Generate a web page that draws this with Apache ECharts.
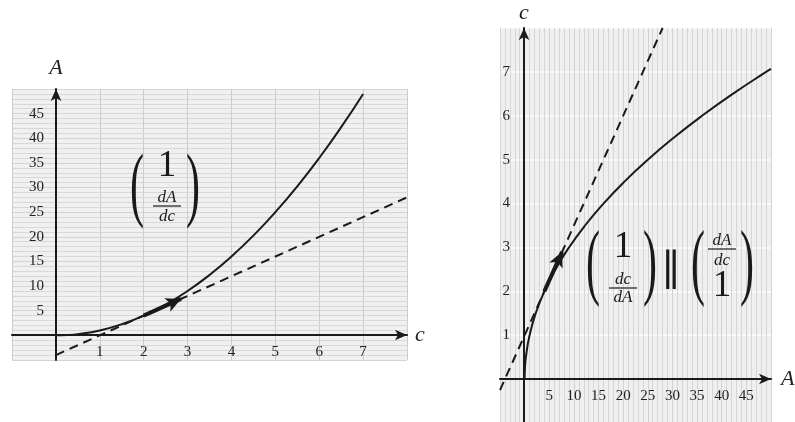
<!DOCTYPE html>
<html>
<head>
<meta charset="utf-8">
<script src="https://cdn.jsdelivr.net/npm/echarts@6/dist/echarts.min.js"></script>
<style>html,body{margin:0;padding:0;background:#fff}#chart{width:795px;height:422px}</style>
</head>
<body>
<div id="chart"></div>
<script>
// Left panel: A versus c
const leftC = [0, 0.25, 0.5, 1, 1.5, 2, 2.5, 3, 3.5, 4, 4.5, 5, 5.5, 6, 6.5, 7];
const leftA = [0, 0.06, 0.25, 1, 2.25, 4, 6.25, 9, 12.25, 16, 20.25, 25, 30.25, 36, 42.25, 49];
const leftTangentC = [0, 8];
const leftTangentA = [-4, 28];
const leftArrowC = [2, 2.85];
const leftArrowA = [4, 7.4];
const leftXTicks = [1, 2, 3, 4, 5, 6, 7];
const leftYTicks = [5, 10, 15, 20, 25, 30, 35, 40, 45];

// Right panel: c versus A
const rightA = [0, 0.06, 0.25, 1, 2.25, 4, 6.25, 9, 12.25, 16, 20.25, 25, 30.25, 36, 42.25, 49, 50];
const rightC = [0, 0.25, 0.5, 1, 1.5, 2, 2.5, 3, 3.5, 4, 4.5, 5, 5.5, 6, 6.5, 7, 7.07];
const rightTangentA = [-5, 28];
const rightTangentC = [-0.25, 8];
const rightArrowA = [4, 7.6];
const rightArrowC = [2, 2.9];
const rightXTicks = [5, 10, 15, 20, 25, 30, 35, 40, 45];
const rightYTicks = [1, 2, 3, 4, 5, 6, 7];

const zip = (a, b) => a.map((v, i) => [v, b[i]]);
const serif = 'Liberation Serif';
const ink = '#1a1a1a';
const labelStyle = {fontFamily: serif, fontSize: 15, color: '#222'};
const nameStyle = {fontFamily: serif, fontStyle: 'italic', fontSize: 22, color: '#222'};
const axisLineStyle = {show: true, onZero: false, symbol: ['none', 'arrow'], symbolSize: [8, 12], lineStyle: {color: ink, width: 2}};

// grid geometry (pixels) — positions only
const G0 = {left: 12, top: 89, width: 395, height: 271};
const G1 = {left: 500, top: 28, width: 271, height: 395};

const chart = echarts.init(document.getElementById('chart'));

function txt(x, y, text, font, extra) {
  return Object.assign({type: 'text', x: x, y: y, z: 10,
    style: {text: text, font: font, fill: ink, align: 'center', verticalAlign: 'middle'}}, extra || {});
}
function bar(x1, x2, y) {
  return {type: 'line', z: 10, shape: {x1: x1, y1: y, x2: x2, y2: y}, style: {stroke: ink, lineWidth: 1.2}};
}
const parenFont = '42px "Liberation Serif"';
const bigFont = '37px "Liberation Serif"';
const fracFont = 'italic 17px "Liberation Serif"';

const option = {
  animation: false,
  backgroundColor: '#ffffff',
  grid: [
    Object.assign({show: true, backgroundColor: '#f0f0f0', borderWidth: 0, outerBoundsMode: 'none', containLabel: false}, G0),
    Object.assign({show: true, backgroundColor: '#efefef', borderWidth: 0, outerBoundsMode: 'none', containLabel: false}, G1)
  ],
  xAxis: [
    {
      gridIndex: 0, type: 'value', min: -1, max: 8, interval: 1, position: 'bottom', offset: -25,
      name: 'c', nameLocation: 'end', nameGap: 8, nameTextStyle: nameStyle,
      axisLine: axisLineStyle, axisTick: {show: false},
      axisLabel: Object.assign({margin: 10, formatter: v => leftXTicks.includes(v) ? String(v) : ''}, labelStyle),
      splitLine: {show: true, lineStyle: {color: '#cdcdcd', width: 1}}
    },
    {
      gridIndex: 1, type: 'value', min: -5, max: 50, interval: 5, position: 'bottom', offset: -44,
      name: 'A', nameLocation: 'end', nameGap: 10, nameTextStyle: nameStyle,
      axisLine: axisLineStyle, axisTick: {show: false},
      axisLabel: Object.assign({margin: 10, formatter: v => rightXTicks.includes(v) ? String(v) : ''}, labelStyle),
      splitLine: {show: true, lineStyle: {color: '#d2d2d2', width: 1}},
      minorTick: {show: false, splitNumber: 5},
      minorSplitLine: {show: true, lineStyle: {color: '#d6d6d6', width: 1}}
    }
  ],
  yAxis: [
    {
      gridIndex: 0, type: 'value', min: -5, max: 50, interval: 5, position: 'left', offset: -44,
      name: 'A', nameLocation: 'end', nameGap: 10, nameTextStyle: nameStyle,
      axisLine: axisLineStyle, axisTick: {show: false},
      axisLabel: Object.assign({margin: 12, formatter: v => leftYTicks.includes(v) ? String(v) : ''}, labelStyle),
      splitLine: {show: true, lineStyle: {color: '#d4d4d4', width: 1}},
      minorTick: {show: false, splitNumber: 5},
      minorSplitLine: {show: true, lineStyle: {color: '#d8d8d8', width: 1}}
    },
    {
      gridIndex: 1, type: 'value', min: -1, max: 8, interval: 1, position: 'left', offset: -24,
      name: 'c', nameLocation: 'end', nameGap: 4, nameTextStyle: nameStyle,
      axisLine: axisLineStyle, axisTick: {show: false},
      axisLabel: Object.assign({margin: 14, formatter: v => rightYTicks.includes(v) ? String(v) : ''}, labelStyle),
      splitLine: {show: true, lineStyle: {color: '#fbfbfb', width: 2}}
    }
  ],
  series: [
    {
      type: 'line', xAxisIndex: 0, yAxisIndex: 0, data: zip(leftC, leftA), smooth: true,
      showSymbol: false, lineStyle: {color: ink, width: 2}, z: 5
    },
    {
      type: 'line', xAxisIndex: 0, yAxisIndex: 0, data: zip(leftTangentC, leftTangentA),
      showSymbol: false, lineStyle: {color: ink, width: 2, type: [9, 6]}, z: 4,
      markLine: {
        silent: true, symbol: ['none', 'arrow'], symbolSize: [11, 15], label: {show: false},
        lineStyle: {color: ink, width: 4, type: 'solid'},
        data: [[{coord: [leftArrowC[0], leftArrowA[0]]}, {coord: [leftArrowC[1], leftArrowA[1]]}]]
      }
    },
    {
      type: 'line', xAxisIndex: 1, yAxisIndex: 1, data: zip(rightA, rightC), smooth: true,
      showSymbol: false, lineStyle: {color: ink, width: 2}, z: 5
    },
    {
      type: 'line', xAxisIndex: 1, yAxisIndex: 1, data: zip(rightTangentA, rightTangentC),
      showSymbol: false, lineStyle: {color: ink, width: 2, type: [9, 6]}, z: 4,
      markLine: {
        silent: true, symbol: ['none', 'arrow'], symbolSize: [11, 15], label: {show: false},
        lineStyle: {color: ink, width: 4, type: 'solid'},
        data: [[{coord: [rightArrowA[0], rightArrowC[0]]}, {coord: [rightArrowA[1], rightArrowC[1]]}]]
      }
    }
  ],
  graphic: [
    // left matrix (1 ; dA/dc)
    txt(137, 189, '(', parenFont, {scaleY: 1.95}),
    txt(193, 189, ')', parenFont, {scaleY: 1.95}),
    txt(167, 166, '1', bigFont),
    txt(167, 198, 'dA', fracFont),
    bar(153, 181, 206),
    txt(167, 217, 'dc', fracFont),
    // right matrix (1 ; dc/dA) || (dA/dc ; 1)
    txt(593, 267, '(', parenFont, {scaleY: 2.0}),
    txt(650, 267, ')', parenFont, {scaleY: 2.0}),
    txt(623, 247, '1', bigFont),
    txt(623, 280, 'dc', fracFont),
    bar(609, 637, 288),
    txt(623, 298, 'dA', fracFont),
    txt(671, 270, '‖', '40px "DejaVu Serif"'),
    txt(698, 267, '(', parenFont, {scaleY: 2.0}),
    txt(747, 267, ')', parenFont, {scaleY: 2.0}),
    txt(722, 241, 'dA', fracFont),
    bar(708, 736, 249),
    txt(722, 261, 'dc', fracFont),
    txt(722, 286, '1', bigFont)
  ]
};
chart.setOption(option);
</script>
</body>
</html>
